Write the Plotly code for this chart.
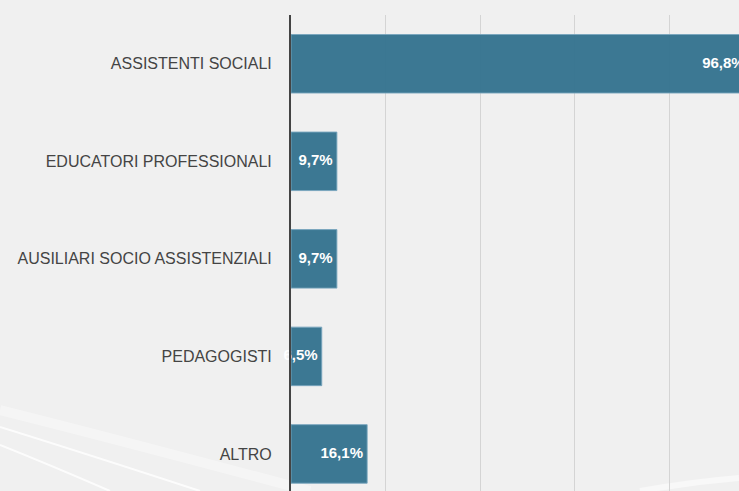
import plotly.graph_objects as go

categories = ["ASSISTENTI SOCIALI", "EDUCATORI PROFESSIONALI",
              "AUSILIARI SOCIO ASSISTENZIALI", "PEDAGOGISTI", "ALTRO"]
values = [96.8, 9.7, 9.7, 6.5, 16.1]

# the original chart is wider than the 739 px view and is cropped on the right
W, H = 764, 491
ML, MR, MT, MB = 291, 0, 15, 0
PW, PH = W - ML - MR, H - MT - MB


def px(x):
    return (x - ML) / PW


def py(y):
    return 1 - (y - MT) / PH


fig = go.Figure()
fig.add_trace(go.Bar(
    x=values, y=categories, orientation="h",
    marker=dict(color="rgba(52,115,143,0.96)",
                line=dict(color="rgba(120,165,190,0.9)", width=1)),
    width=0.6, hoverinfo="skip",
))
fig.add_trace(go.Scatter(
    x=values, y=categories, mode="text",
    texttemplate="%{x:.1f}%\u00a0", textposition="middle left",
    textfont=dict(family="Liberation Sans", size=15, color="white", weight="bold"),
    cliponaxis=False, hoverinfo="skip",
))

# decorative background curves (bottom-left)
curves = [
    ((0, 410), (120, 440), (310, 491), 10, "rgba(255,255,255,0.35)"),
    ((0, 427), (90, 455), (200, 491), 2, "rgba(255,255,255,0.8)"),
    ((0, 445), (50, 465), (110, 491), 2, "rgba(255,255,255,0.8)"),
    ((640, 491), (690, 482), (739, 478), 6, "rgba(255,255,255,0.5)"),
]
shapes = []
for (x0, y0), (cx, cy), (x1, y1), w, c in curves:
    shapes.append(dict(
        type="path", xref="paper", yref="paper", layer="below",
        path=f"M {px(x0)},{py(y0)} Q {px(cx)},{py(cy)} {px(x1)},{py(y1)}",
        line=dict(color=c, width=w),
    ))

fig.update_layout(
    width=W, height=H,
    margin=dict(l=ML, r=MR, t=MT, b=MB, pad=0),
    paper_bgcolor="#f0f0f0", plot_bgcolor="rgba(0,0,0,0)",
    separators=",.",
    showlegend=False,
    shapes=shapes,
    xaxis=dict(range=[0, 100], dtick=20, tick0=0,
               showgrid=True, gridcolor="#d4d4d4", gridwidth=1,
               zeroline=False, showticklabels=False, showline=False,
               fixedrange=True),
    yaxis=dict(categoryorder="array", categoryarray=categories,
               range=[4.38, -0.5], showgrid=False, zeroline=False,
               showline=True, linecolor="#444444", linewidth=2,
               ticks="", ticklabelstandoff=14,
               tickfont=dict(family="Liberation Sans", size=16, color="#444444"),
               fixedrange=True),
)

fig.write_html(
    "out.html",
    config={"displayModeBar": False},
    post_script="document.body.style.margin='0';document.body.style.overflow='hidden';",
)
